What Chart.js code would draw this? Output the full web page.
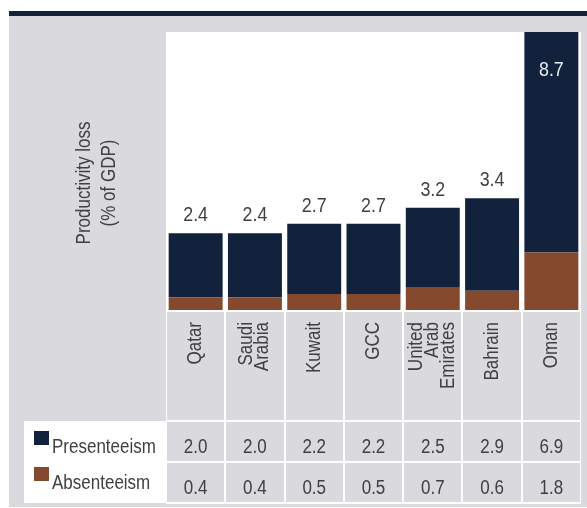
<!DOCTYPE html>
<html>
<head>
<meta charset="utf-8">
<script src="https://cdn.jsdelivr.net/npm/chart.js@4"></script>
<style>
  html, body { margin: 0; padding: 0; background: #fff; }
</style>
</head>
<body>
<canvas id="chart" width="587" height="508"></canvas>
<script>
// chart data
const countries = [['Qatar'], ['Saudi', 'Arabia'], ['Kuwait'], ['GCC'], ['United', 'Arab', 'Emirates'], ['Bahrain'], ['Oman']];
const presenteeism = [2.0, 2.0, 2.2, 2.2, 2.5, 2.9, 6.9];
const absenteeism = [0.4, 0.4, 0.5, 0.5, 0.7, 0.6, 1.8];
const totals = [2.4, 2.4, 2.7, 2.7, 3.2, 3.4, 8.7];
const seriesNames = ['Presenteeism', 'Absenteeism'];
const axisTitle = ['Productivity loss', '(% of GDP)'];

const NAVY = '#12213c';
const BROWN = '#854a2e';
const GREY = '#d9d9de';
const TEXT = '#404040';
const FONT = '"Liberation Sans", Arial, sans-serif';
const SQUEEZE = 0.85; // no condensed face installed, so squeeze text sideways

const font = (size) => size + 'px ' + FONT;

// draws text at x,y using the current align/baseline, narrowed along the text
function text(ctx, str, x, y) {
  ctx.save();
  ctx.translate(x, y);
  ctx.scale(SQUEEZE, 1);
  ctx.fillText(str, 0, 0);
  ctx.restore();
}

// y positions of the table below the plot
const cellTop = 312, cellBottom = 420;
const rowTops = [422, 463], rowH = 39;

const frame = {
  id: 'frame',
  beforeDraw(chart) {
    const ctx = chart.ctx, a = chart.chartArea;
    ctx.save();
    ctx.fillStyle = '#fff';
    ctx.fillRect(0, 0, chart.width, chart.height);
    ctx.fillStyle = GREY;
    ctx.fillRect(9, 16, chart.width - 9, 491);
    ctx.fillStyle = NAVY;
    ctx.fillRect(9, 11, chart.width - 9, 5);
    // white plot + table frame
    ctx.fillStyle = '#fff';
    ctx.fillRect(a.left, a.top, a.right - a.left, 504 - a.top);
    // legend box
    ctx.fillRect(24, 421, a.left - 24, 82);

    const n = countries.length;
    const step = (a.right - a.left) / n;
    ctx.fillStyle = GREY;
    for (let i = 0; i < n; i++) {
      const x0 = Math.round(a.left + i * step) + 1;
      const x1 = Math.round(a.left + (i + 1) * step) - 1;
      ctx.fillRect(x0, cellTop, x1 - x0, cellBottom - cellTop);
      rowTops.forEach(t => ctx.fillRect(x0, t, x1 - x0, rowH));
    }

    // axis title, rotated
    ctx.fillStyle = TEXT;
    ctx.font = font(20);
    ctx.textAlign = 'center';
    ctx.textBaseline = 'middle';
    ctx.translate(0, 183);
    ctx.rotate(-Math.PI / 2);
    text(ctx, axisTitle[0], 0, 84);
    text(ctx, axisTitle[1], 0, 109);
    ctx.restore();
  },
  afterDatasetsDraw(chart) {
    const ctx = chart.ctx, a = chart.chartArea;
    const xs = chart.scales.x, ys = chart.scales.y;
    ctx.save();

    // totals on top of bars
    ctx.font = font(21);
    ctx.textAlign = 'center';
    ctx.textBaseline = 'alphabetic';
    totals.forEach((v, i) => {
      const x = xs.getPixelForValue(i);
      const y = ys.getPixelForValue(presenteeism[i] + absenteeism[i]);
      if (y - 30 < a.top) {
        ctx.fillStyle = '#e8ebf0';
        text(ctx, v.toFixed(1), x, y + 44);
      } else {
        ctx.fillStyle = TEXT;
        text(ctx, v.toFixed(1), x, y - 12);
      }
    });

    // category labels, rotated, ending near the top of the cell
    ctx.font = font(20);
    ctx.fillStyle = TEXT;
    ctx.textAlign = 'right';
    ctx.textBaseline = 'middle';
    countries.forEach((lines, i) => {
      const x = xs.getPixelForValue(i);
      ctx.save();
      ctx.translate(x, 322);
      ctx.rotate(-Math.PI / 2);
      const off = (lines.length - 1) * 16 / 2;
      lines.forEach((l, k) => text(ctx, l, 0, k * 16 - off));
      ctx.restore();
    });

    // table values
    ctx.textAlign = 'center';
    ctx.textBaseline = 'alphabetic';
    const rows = [presenteeism, absenteeism];
    const valueBase = [453, 494];
    rows.forEach((r, k) => {
      r.forEach((v, i) => text(ctx, v.toFixed(1), xs.getPixelForValue(i), valueBase[k]));
    });

    // legend in the table
    const swatch = [NAVY, BROWN];
    const swatchTop = [431, 467];
    const legendBase = [453, 489];
    ctx.textAlign = 'left';
    seriesNames.forEach((s, k) => {
      ctx.fillStyle = swatch[k];
      ctx.fillRect(34, swatchTop[k], 15, 14);
      ctx.fillStyle = TEXT;
      text(ctx, s, 52, legendBase[k]);
    });
    ctx.restore();
  }
};

new Chart(document.getElementById('chart'), {
  type: 'bar',
  data: {
    labels: countries,
    datasets: [
      { label: seriesNames[1], data: absenteeism, backgroundColor: BROWN },
      { label: seriesNames[0], data: presenteeism, backgroundColor: NAVY }
    ]
  },
  options: {
    responsive: false,
    animation: false,
    devicePixelRatio: 1,
    layout: { padding: { left: 166, right: 6, top: 32, bottom: 198 } },
    datasets: { bar: { barPercentage: 0.91, categoryPercentage: 1, borderWidth: 0 } },
    scales: {
      x: { stacked: true, display: false },
      y: { stacked: true, display: false, min: 0, max: 8.7 }
    },
    plugins: { legend: { display: false }, tooltip: { enabled: false } }
  },
  plugins: [frame]
});
</script>
</body>
</html>
